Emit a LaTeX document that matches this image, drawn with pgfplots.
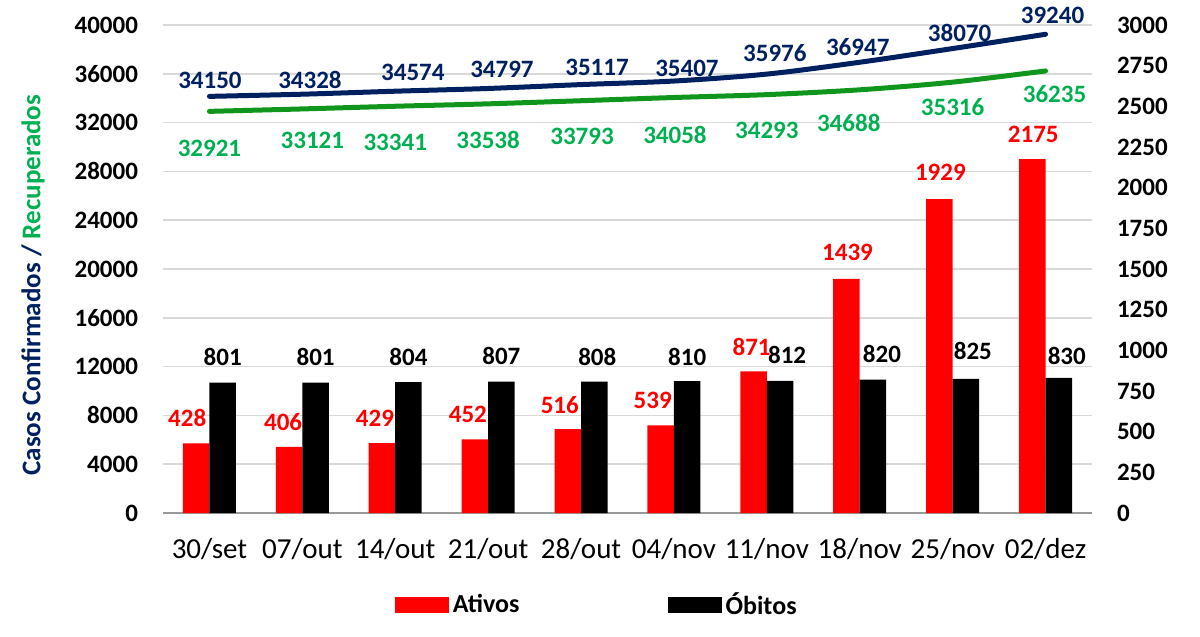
\documentclass[border=0pt]{standalone}
\usepackage{pgfplots}
\usepackage{pgfplotstable}
\pgfplotsset{compat=1.18}
\usepackage{fontspec}
\setmainfont{Carlito}
\definecolor{navy}{RGB}{0,32,96}
\definecolor{lgreen}{RGB}{0,176,80}
\definecolor{linegreen}{RGB}{16,150,28}
\definecolor{gridgray}{RGB}{217,217,217}

\pgfplotstableread{
x v dx dy
0 34150 0.25 8.2
1 34328 3.8 7.1
2 34574 8.8 9.6
3 34797 6.9 9.7
4 35117 8 8.8
5 35407 6.5 6.5
6 35976 4 10.7
7 36947 -1 7.5
8 38070 3.5 7.75
9 39240 3.5 9.5
}\confirmados

\pgfplotstableread{
x v dx dy
0 32921 0 -18.3
1 33121 5 -15.5
2 33341 0 -18
3 33538 0 -18
4 33793 0.5 -18
5 34058 0.5 -18.75
6 34293 0 -17.7
7 34688 -5.5 -16.5
8 35316 0 -12.5
9 36235 4.5 -11.5
}\recuperados

\pgfplotstableread{
x v dx dy
0 428 -4.5 12.5
1 406 -3 12.5
2 429 -3.5 12.5
3 452 -3.5 12.5
4 516 -4 12
5 539 -4 12.5
6 871 -1 12
7 1439 0.5 13.5
8 1929 0.5 13.5
9 2175 0.5 12.5
}\ativos

\pgfplotstableread{
x v dx dy
0 801 0 12.8
1 801 0 12.8
2 804 0 12.8
3 807 0 12.8
4 808 1.5 12.5
5 810 0 12
6 812 3.5 13
7 820 4.5 13
8 825 3.5 14
9 830 4 11
}\obitos

\begin{document}
\begin{tikzpicture}
\useasboundingbox (-81.5pt,-62pt) rectangle (518.5pt,256.5pt);
\begin{axis}[
  at={(0,0)}, anchor=south west,
  scale only axis, width=464.5pt, height=244pt,
  xmin=-0.5, xmax=9.5, ymin=0, ymax=40000,
  axis x line*=bottom, axis y line*=left,
  y axis line style={draw=none},
  x axis line style={draw=gray!80, line width=0.75pt},
  xtick={0,...,9},
  xticklabels={30/set,07/out,14/out,21/out,28/out,04/nov,11/nov,18/nov,25/nov,02/dez},
  ytick={0,4000,...,40000},
  scaled y ticks=false,
  /pgf/number format/1000 sep={},
  /pgf/number format/assume math mode=true,
  major tick length=0pt,
  ymajorgrids, grid style={gridgray, line width=0.75pt},
  yticklabel style={font=\fontsize{12.5}{14}\selectfont\bfseries, anchor=east, xshift=-9pt},
  xticklabel style={font=\fontsize{14.5}{16}\selectfont, anchor=center, yshift=-18pt},
  ylabel={\textcolor{navy}{Casos Confirmados /} \textcolor{lgreen}{Recuperados}},
  ylabel style={font=\fontsize{13.5}{15}\selectfont\bfseries, at={(axis description cs:-0.1399,0.467)}, anchor=center},
  clip=false,
]
\addplot[navy, line width=2.5pt, smooth, line cap=round,
  nodes near coords, point meta=explicit symbolic,
  visualization depends on={\thisrow{dx}\as\dx},
  visualization depends on={\thisrow{dy}\as\dy},
  every node near coord/.append style={anchor=center, xshift=\dx pt, yshift=\dy pt, text=navy, font=\fontsize{12.5}{14}\selectfont\bfseries},
] table[x=x, y=v, meta=v] \confirmados;
\addplot[linegreen, line width=2.5pt, smooth, line cap=round,
  nodes near coords, point meta=explicit symbolic,
  visualization depends on={\thisrow{dx}\as\dx},
  visualization depends on={\thisrow{dy}\as\dy},
  every node near coord/.append style={anchor=center, xshift=\dx pt, yshift=\dy pt, text=lgreen, font=\fontsize{12.5}{14}\selectfont\bfseries},
] table[x=x, y=v, meta=v] \recuperados;
\end{axis}
\begin{axis}[
  at={(0,0)}, anchor=south west,
  scale only axis, width=464.5pt, height=244pt,
  xmin=-0.5, xmax=9.5, ymin=0, ymax=3000,
  axis x line=none, axis y line*=right,
  y axis line style={draw=none},
  ytick={0,250,...,3000},
  scaled y ticks=false,
  /pgf/number format/1000 sep={},
  /pgf/number format/assume math mode=true,
  major tick length=0pt,
  yticklabel style={font=\fontsize{12.5}{14}\selectfont\bfseries, anchor=west, xshift=9pt},
  ybar=0pt, bar width=13.25pt,
  legend style={at={(axis description cs:0.468,-0.1885)}, anchor=center, draw=none,
    legend columns=2, font=\fontsize{13}{15}\selectfont\bfseries,
    /tikz/every even column/.append style={column sep=72pt}},
  legend cell align=left,
  clip=false,
]
\addplot[fill=red, draw=none,
  legend image code/.code={\fill[red] (0pt,-4pt) rectangle (27pt,4pt);},
  nodes near coords, point meta=explicit symbolic,
  visualization depends on={\thisrow{dx}\as\dx},
  visualization depends on={\thisrow{dy}\as\dy},
  every node near coord/.append style={anchor=center, xshift=\dx pt, yshift=\dy pt, text=red, font=\fontsize{12.5}{14}\selectfont\bfseries},
] table[x=x, y=v, meta=v] \ativos;
\addplot[fill=black, draw=none,
  legend image code/.code={\fill[black] (0pt,-4pt) rectangle (27pt,4pt);},
  nodes near coords, point meta=explicit symbolic,
  visualization depends on={\thisrow{dx}\as\dx},
  visualization depends on={\thisrow{dy}\as\dy},
  every node near coord/.append style={anchor=center, xshift=\dx pt, yshift=\dy pt, text=black, font=\fontsize{12.5}{14}\selectfont\bfseries},
] table[x=x, y=v, meta=v] \obitos;
\legend{Ativos, Óbitos}
\end{axis}
\end{tikzpicture}
\end{document}
